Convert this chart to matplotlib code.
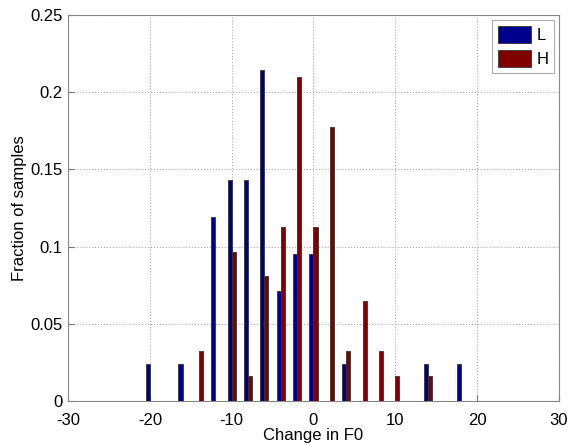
import matplotlib
matplotlib.use("Agg")
import matplotlib.pyplot as plt
import numpy as np

plt.rcParams['font.family'] = ['Liberation Sans', 'DejaVu Sans']
plt.rcParams['axes.unicode_minus'] = False

bins = [-20, -18, -16, -14, -12, -10, -8, -6, -4, -2, 0, 2, 4, 6, 8, 10, 12, 14, 16, 18]
L_counts = [1, 0, 1, 0, 5, 6, 6, 9, 3, 4, 4, 0, 1, 0, 0, 0, 0, 1, 0, 1]
H_counts = [0, 0, 0, 2, 0, 6, 1, 5, 7, 13, 7, 11, 2, 4, 2, 1, 0, 1, 0, 0]
L_vals = np.array(L_counts) / 42.0
H_vals = np.array(H_counts) / 62.0

fig = plt.figure(figsize=(5.69, 4.45), dpi=100)
ax = fig.add_axes([0.1195, 0.0989, 0.8629, 0.8674])

x = np.array(bins, dtype=float)
w = 0.5
ax.bar(x - w/2, L_vals, width=w, color='#00008F', edgecolor='#333333', linewidth=0.6, label='L', zorder=3)
ax.bar(x + w/2, H_vals, width=w, color='#800000', edgecolor='#333333', linewidth=0.6, label='H', zorder=3)

ax.set_xlim(-30, 30)
ax.set_ylim(0, 0.25)
ax.set_xticks([-30, -20, -10, 0, 10, 20, 30])
ax.set_yticks([0, 0.05, 0.1, 0.15, 0.2, 0.25])
ax.set_yticklabels(['0', '0.05', '0.1', '0.15', '0.2', '0.25'])
ax.grid(True, linestyle=':', color='#aaaaaa', linewidth=0.8, zorder=0)
ax.tick_params(direction='in', labelsize=12, color='#777777', length=4)
ax.tick_params(axis='x', pad=9)
ax.tick_params(axis='y', pad=4)
for s in ax.spines.values():
    s.set_color('#888888')
ax.set_xlabel('Change in F0', fontsize=12, labelpad=0)
ax.set_ylabel('Fraction of samples', fontsize=12, labelpad=2)

leg = ax.legend(loc='upper right', fontsize=12, fancybox=False, edgecolor='#999999',
                handlelength=2.0, handleheight=1.2, borderpad=0.35, labelspacing=0.4,
                handletextpad=0.3, borderaxespad=0.3)
leg.get_frame().set_linewidth(0.8)

fig.savefig('out.png', dpi=100)
